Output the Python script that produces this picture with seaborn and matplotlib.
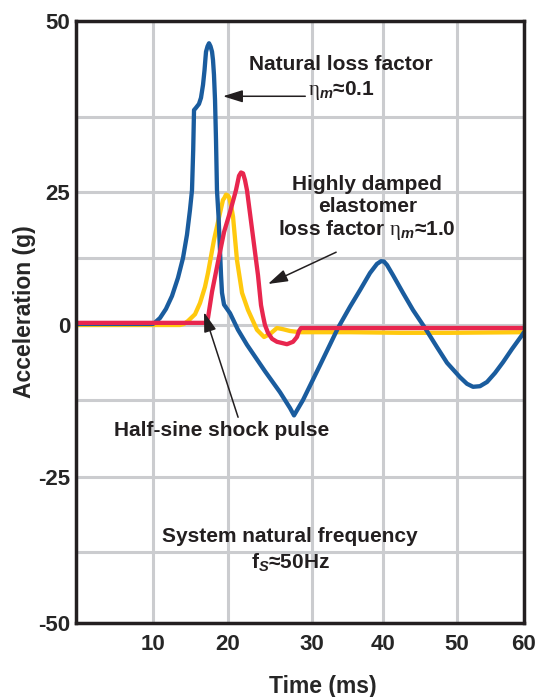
import numpy as np
import pandas as pd
import matplotlib
matplotlib.use("Agg")
import matplotlib.pyplot as plt
import seaborn as sns

# time (ms) / acceleration (g)
blue_t = [0, 10, 10.3, 10.93, 11.73, 12.53, 13.33, 14.0, 14.53, 14.93, 15.2, 15.36, 15.47,
          15.73, 16.13, 16.4, 16.67, 16.87, 17.0, 17.07, 17.27, 17.47, 17.67, 17.87, 18.0,
          18.13, 18.27, 18.4, 18.53, 18.73, 18.93, 19.07, 19.2, 19.47, 19.87, 20.24, 21.19,
          22.26, 23.33, 24.4, 26.19, 27.38, 27.86, 28.93, 31.13, 33.66, 35.35, 36.76, 38.17,
          39.15, 39.72, 40.12, 40.54, 41.35, 42.7, 44.05, 45.68, 47.3, 48.65, 50.45, 51.49,
          52.39, 53.43, 54.48, 55.67, 56.87, 58.21, 59.7, 60]
blue_g = [0.2, 0.2, 0.5, 1.3, 3.0, 5.4, 8.8, 12.5, 16.9, 21.6, 25.3, 32.0, 38.4,
          38.7, 39.2, 40.0, 41.7, 43.6, 45.2, 46.0, 46.7, 47.1, 46.7, 46.0, 44.9,
          43.0, 39.7, 33.7, 25.3, 20.6, 14.0, 9.3, 6.0, 3.8, 3.0, 2.2, -0.8,
          -3.3, -5.5, -7.7, -11.2, -13.8, -15.0, -12.5, -6.7, -0.5, 3.4, 6.5, 9.7,
          11.4, 11.9, 11.85, 11.2, 9.3, 6.0, 2.8, -0.5, -3.7, -6.3, -8.7, -9.8,
          -10.3, -10.2, -9.5, -8.0, -6.2, -4.0, -1.7, -1.2]

red_t = [0, 17.07, 17.33, 17.87, 18.67, 19.47, 20.24, 20.95, 21.31, 21.55, 21.79, 22.02, 22.26,
         22.98, 23.57, 23.93, 24.17, 24.4, 24.76, 25.24, 25.83, 27.02, 27.74, 28.21, 28.45,
         28.69, 60]
red_g = [0.4, 0.4, 1.3, 6.2, 11.8, 17.4, 21.2, 25.3, 27.7, 28.25, 28.1, 27.0, 25.3,
         16.5, 9.3, 3.7, 1.7, 0.0, -1.3, -2.3, -2.8, -3.2, -2.8, -2.0, -1.0,
         -0.5, -0.5]

yellow_t = [0, 13.6, 14.13, 14.67, 15.6, 16.27, 16.93, 17.33, 18.13, 18.93, 19.33, 19.53, 19.73,
            19.93, 20.12, 20.36, 20.6, 21.07, 21.67, 22.38, 23.45, 24.29, 25.0, 25.83, 26.55,
            27.38, 28.57, 35.35, 42.3, 49.05, 60]
yellow_g = [0.0, 0.0, 0.2, 0.75, 2.0, 4.1, 7.1, 9.7, 15.9, 21.0, 23.5, 23.9, 24.5,
            24.4, 24.05, 22.5, 20.3, 12.1, 6.0, 2.8, -0.8, -2.0, -1.5, -0.5, -0.7,
            -1.0, -1.2, -1.2, -1.3, -1.3, -1.2]

x_ticks = [10, 20, 30, 40, 50, 60]
y_ticks = [-50, -25, 0, 25, 50]
y_minor = [-37.5, -12.5, 12.5, 37.5]

# the drawing's axes are not evenly spaced: grid value -> position knots
x_knots = [0, 10, 20, 30, 40, 50, 60]
x_pos = [0, 77, 152, 236, 307, 381, 448]
y_knots = [-50, -37.5, -25, -12.5, 0, 12.5, 25, 37.5, 50]
y_pos = [0, 71, 146, 223, 298, 365, 431, 506, 602]


def piecewise(src, dst):
    src = np.asarray(src, float)
    dst = np.asarray(dst, float)
    lo = (dst[1] - dst[0]) / (src[1] - src[0])
    hi = (dst[-1] - dst[-2]) / (src[-1] - src[-2])

    def f(v):
        v = np.asarray(v, float)
        out = np.interp(v, src, dst)
        out = np.where(v < src[0], dst[0] + (v - src[0]) * lo, out)
        out = np.where(v > src[-1], dst[-1] + (v - src[-1]) * hi, out)
        return out
    return f


sns.set_style("white")
plt.rcParams["font.family"] = ["Liberation Sans", "DejaVu Sans"]
plt.rcParams["font.weight"] = "bold"
plt.rcParams["mathtext.fontset"] = "custom"
plt.rcParams["mathtext.rm"] = "Liberation Serif:regular"
plt.rcParams["mathtext.it"] = "Liberation Sans:italic:bold"
plt.rcParams["mathtext.bf"] = "Liberation Sans:bold"

fig = plt.figure(figsize=(5.38, 6.97), dpi=100)
ax = fig.add_axes([76 / 538, 74 / 697, 448 / 538, 602 / 697])

ax.set_xscale("function", functions=(piecewise(x_knots, x_pos), piecewise(x_pos, x_knots)))
ax.set_yscale("function", functions=(piecewise(y_knots, y_pos), piecewise(y_pos, y_knots)))

lw = 3.1
df_y = pd.DataFrame({"t": yellow_t, "g": yellow_g})
df_b = pd.DataFrame({"t": blue_t, "g": blue_g})
df_r = pd.DataFrame({"t": red_t, "g": red_g})
sns.lineplot(data=df_y, x="t", y="g", color="#ffc90e", lw=lw, estimator=None, ax=ax, zorder=3)
sns.lineplot(data=df_b, x="t", y="g", color="#1a5c9e", lw=lw, estimator=None, ax=ax, zorder=4)
sns.lineplot(data=df_r, x="t", y="g", color="#e8264e", lw=lw, estimator=None, ax=ax, zorder=5)

ax.set_xlim(0, 60)
ax.set_ylim(-50, 50)
ax.set_xticks(x_ticks)
ax.set_xticklabels([str(v) for v in x_ticks])
ax.set_yticks(y_ticks)
ax.set_yticklabels([str(v) for v in y_ticks])
ax.set_yticks(y_minor, minor=True)
ax.set_xticks([], minor=True)
ax.grid(True, which="both", color="#cbcccf", lw=2.2, zorder=0)
ax.set_axisbelow(True)
ax.tick_params(which="both", length=0)
ax.tick_params(axis="y", labelsize=16, pad=4)
ax.tick_params(axis="x", labelsize=16, pad=8)
for sp in ax.spines.values():
    sp.set_visible(True)
    sp.set_color("#231f20")
    sp.set_linewidth(2.5)
    sp.set_zorder(6)

ax.set_xlabel("Time (ms)", fontsize=16.5, fontweight="bold", va="center")
ax.xaxis.set_label_coords(0.551, -0.1047)
ax.set_ylabel("Acceleration (g)", fontsize=16.5, fontweight="bold", va="center")
ax.yaxis.set_label_coords(-0.115, 0.517)

txt = dict(fontsize=15, fontweight="bold", color="#231f20", transform=ax.transAxes)
ax.text(0.592, 0.927, "Natural loss factor", ha="center", va="center", **txt)
ax.text(0.518, 0.884, r"$\mathrm{η}_{\mathit{m}}$≈0.1", ha="left", va="center", **txt)
ax.text(0.650, 0.688, "Highly damped\nelastomer\n" + r"loss factor $\mathrm{η}_{\mathit{m}}$≈1.0",
        ha="center", va="center", linespacing=1.15, **txt)
ax.text(0.324, 0.319, "Half-sine shock pulse", ha="center", va="center", **txt)
ax.text(0.478, 0.1445, "System natural frequency", ha="center", va="center", **txt)
ax.text(0.478, 0.0997, r"f$_{\mathit{S}}$≈50Hz", ha="center", va="center", **txt)

arrow = dict(arrowstyle="-|>,head_length=0.8,head_width=0.25", color="#231f20", lw=1.1,
             mutation_scale=15, shrinkA=0, shrinkB=0)
ax.annotate("", xy=(19.33, 40.2), xytext=(29.2, 40.2), arrowprops=arrow, zorder=7)
ax.annotate("", xy=(24.76, 7.65), xytext=(33.4, 13.6), arrowprops=arrow, zorder=7)
ax.annotate("", xy=(16.8, 2.4), xytext=(21.2, -15.3), arrowprops=arrow, zorder=7)

fig.savefig("out.png", dpi=100)
